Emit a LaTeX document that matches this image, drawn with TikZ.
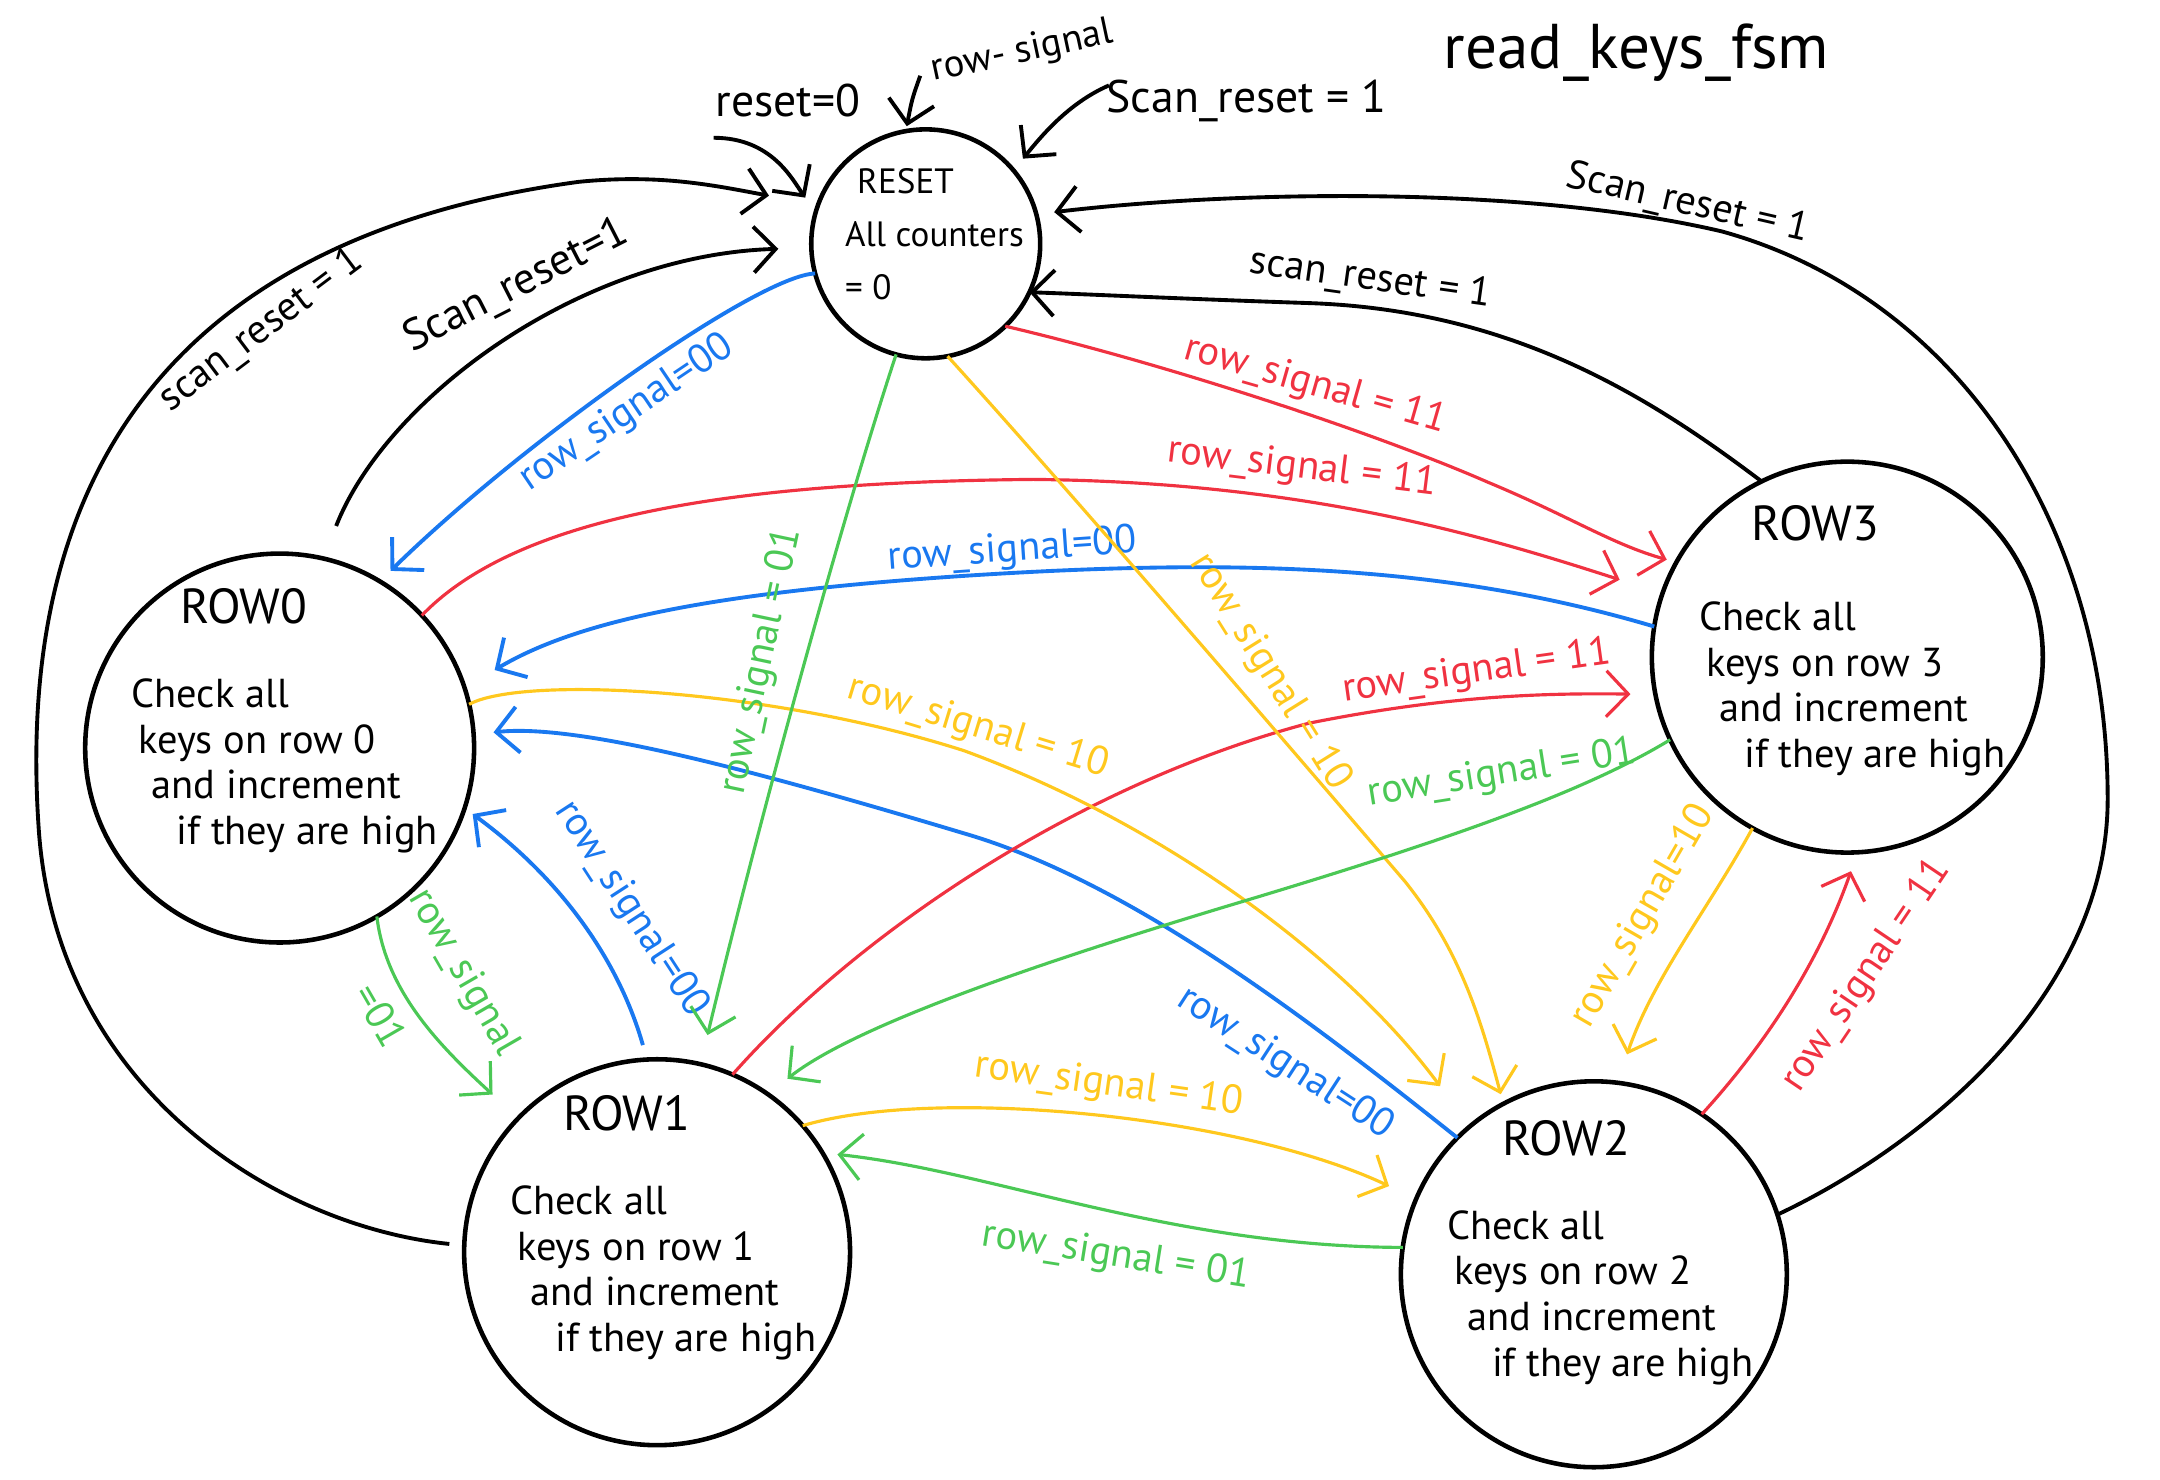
\documentclass[tikz,border=0pt]{standalone}
\usepackage{fontspec}
\setmainfont{PT Sans}
\usetikzlibrary{arrows.meta}
\definecolor{cred}{RGB}{240,50,65}
\definecolor{cblue}{RGB}{25,120,240}
\definecolor{cgreen}{RGB}{75,200,85}
\definecolor{cyellow}{RGB}{255,200,30}
\begin{document}
\begin{tikzpicture}[x=0.01378cm,y=-0.01378cm,
  arr/.style={-{Straight Barb[length=2.2mm,width=4.6mm]}},
  stcirc/.style={circle,draw,line width=1.3pt,inner sep=0pt,outer sep=0pt},
  sttitle/.style={font=\fontsize{14}{16}\selectfont},
  stbody/.style={font=\fontsize{11.5}{13}\selectfont,align=left,anchor=west,inner sep=0pt},
  lbl/.style={font=\fontsize{11.5}{13}\selectfont,inner sep=1pt},
  kedge/.style={draw=black,line width=1.1pt,arr},
  bedge/.style={draw=cblue,line width=1.1pt,arr},
  redge/.style={draw=cred,line width=0.9pt,arr},
  yedge/.style={draw=cyellow,line width=0.9pt,arr},
  gedge/.style={draw=cgreen,line width=0.9pt,arr}]
\useasboundingbox (0,0) rectangle (1568,1074);

% states
\node[stcirc,minimum size=2.29cm] (reset) at (672,177) {};
\node[stcirc,minimum size=3.89cm] (row0) at (203,543) {};
\node[stcirc,minimum size=3.91cm] (row3) at (1341,477) {};
\node[stcirc,minimum size=3.86cm] (row1) at (477,909) {};
\node[stcirc,minimum size=3.86cm] (row2) at (1157,925) {};

\node[font=\fontsize{10}{15}\selectfont,align=left,anchor=west,inner sep=0pt] (resett) at (613,170)
  {\hspace*{0.12cm}RESET\\All counters\\= 0};

\node[sttitle] (row0t) at (177,440) {ROW0};
\node[stbody] (row0b) at (95,556) {Check all\\\hspace*{0.07cm}keys on row 0\\\hspace*{0.2cm}and increment\\\hspace*{0.45cm}if they are high};
\node[sttitle] (row3t) at (1318,380) {ROW3};
\node[stbody] (row3b) at (1233,500) {Check all\\\hspace*{0.07cm}keys on row 3\\\hspace*{0.2cm}and increment\\\hspace*{0.45cm}if they are high};
\node[sttitle] (row1t) at (455,808) {ROW1};
\node[stbody] (row1b) at (370,924) {Check all\\\hspace*{0.07cm}keys on row 1\\\hspace*{0.2cm}and increment\\\hspace*{0.45cm}if they are high};
\node[sttitle] (row2t) at (1137,826) {ROW2};
\node[stbody] (row2b) at (1050,942) {Check all\\\hspace*{0.07cm}keys on row 2\\\hspace*{0.2cm}and increment\\\hspace*{0.45cm}if they are high};

% title and top labels
\node[font=\fontsize{18}{20}\selectfont] (title) at (1188,38) {read\_keys\_fsm};
\node[lbl,font=\fontsize{13}{15}\selectfont] (lr0) at (572,73) {reset=0};
\node[lbl,font=\fontsize{11}{13}\selectfont,rotate=12] (lrs) at (742,38) {row- signal};
\node[lbl,font=\fontsize{13}{15}\selectfont] (lsr) at (905,73) {Scan\_reset = 1};

% free arrows into RESET
\coordinate (r0s) at (518,100);
\coordinate (rss) at (668,55);
\coordinate (srs) at (805,62);
\draw[kedge,shorten >=1.8mm] (r0s) .. controls (560,100) and (575,130) .. (reset.164);
\draw[kedge,shorten >=0.5mm] (rss) .. controls (662,72) .. (reset.100);
\draw[kedge,shorten >=1.5mm] (srs) .. controls (775,75) and (755,100) .. (reset.40);

% black: scan_reset = 1
\draw[kedge,shorten <=1.5mm,shorten >=5mm] (row1.178) .. controls (200,890) and (40,790) .. (28,600)
  .. controls (10,330) and (140,170) .. (420,132) .. controls (480,126) and (520,135) .. (reset.160);
\node[lbl,rotate=37] (l4) at (190,240) {scan\_reset = 1};
\draw[kedge,shorten <=3.5mm,shorten >=3.3mm] (row0.77) .. controls (280,290) and (420,185) .. (reset.182);
\node[lbl,font=\fontsize{12.5}{14}\selectfont,rotate=27] (l5) at (375,208) {Scan\_reset=1};
\draw[kedge,shorten >=1.8mm] (row2.18) .. controls (1400,830) and (1530,720) .. (1530,580)
  .. controls (1530,380) and (1420,215) .. (1250,168) .. controls (1110,135) and (900,138) .. (reset.15);
\node[lbl,rotate=-13] (l6) at (1225,148) {Scan\_reset = 1};
\draw[kedge] (row3.116) .. controls (1200,290) and (1100,225) .. (950,220) .. controls (860,217) and (800,214) .. (reset.-25);
\node[lbl,rotate=-8] (l7) at (995,203) {scan\_reset = 1};

% blue: row_signal = 00
\draw[bedge,shorten >=1.5mm] (reset.195) .. controls (550,200) and (380,320) .. (row0.59);
\node[lbl,text=cblue,rotate=34] (l8) at (455,300) {row\_signal=00};
\draw[bedge,shorten >=3.5mm] (row3.171) .. controls (1050,410) and (900,405) .. (700,418)
  .. controls (520,430) and (420,450) .. (row0.18);
\node[lbl,text=cblue,rotate=4] (l9) at (735,400) {row\_signal=00};
\draw[bedge,shorten >=2mm] (row2.135) .. controls (950,740) and (820,640) .. (700,605)
  .. controls (550,560) and (420,525) .. (row0.4);
\node[lbl,text=cblue,rotate=-33] (l10) at (933,772) {row\_signal=00};
\draw[bedge,shorten <=1.5mm,shorten >=1mm] (row1.93) .. controls (450,700) and (410,640) .. (row0.-18);
\node[lbl,text=cblue,rotate=-57] (l11) at (458,660) {row\_signal=00};

% red: row_signal = 11
\draw[redge,shorten >=1mm] (reset.-46) .. controls (850,265) and (1000,315) .. (1080,350)
  .. controls (1140,375) and (1170,395) .. (row3.151);
\node[lbl,text=cred,rotate=-16] (l12) at (955,280) {row\_signal = 11};
\draw[redge,shorten >=4.5mm] (row0.43) .. controls (380,370) and (550,350) .. (750,348)
  .. controls (950,350) and (1080,390) .. (row3.161);
\node[lbl,text=cred,rotate=-7] (l13) at (945,340) {row\_signal = 11};
\draw[redge,shorten >=2.5mm] (row1.67) .. controls (620,680) and (780,570) .. (950,525)
  .. controls (1050,505) and (1120,503) .. (row3.191);
\node[lbl,text=cred,rotate=8] (l14) at (1072,488) {row\_signal = 11};
\draw[redge,shorten >=2mm] (row2.56) .. controls (1280,760) and (1320,700) .. (row3.-87);
\node[lbl,text=cred,rotate=56] (l15) at (1355,708) {row\_signal = 11};

% yellow: row_signal = 10
\draw[yedge,shorten >=1mm] (reset.-79) .. controls (780,360) and (960,570) .. (1020,640)
  .. controls (1060,690) and (1075,740) .. (row2.118);
\node[lbl,text=cyellow,rotate=-58] (l16) at (922,488) {row\_signal = 10};
\draw[yedge,shorten >=5mm] (row0.13) .. controls (380,490) and (560,500) .. (700,545)
  .. controls (850,600) and (980,700) .. (row2.130);
\node[lbl,text=cyellow,rotate=-17] (l17) at (710,528) {row\_signal = 10};
\draw[yedge,shorten >=3mm] (row1.41) .. controls (680,788) and (900,810) .. (row2.157);
\node[lbl,text=cyellow,rotate=-8] (l18) at (805,788) {row\_signal = 10};
\draw[yedge,shorten >=3mm] (row3.241) .. controls (1240,660) and (1200,710) .. (row2.83);
\node[lbl,text=cyellow,rotate=60] (l19) at (1193,665) {row\_signal=10};

% green: row_signal = 01
\draw[gedge,shorten >=3mm] (reset.-105) .. controls (610,380) and (550,600) .. (row1.77);
\node[lbl,text=cgreen,rotate=78] (l20) at (553,480) {row\_signal = 01};
\draw[gedge,shorten >=3.5mm] (row0.-60) .. controls (280,720) and (320,760) .. (row1.136);
\node[lbl,text=cgreen,rotate=-60] (l21a) at (336,706) {row\_signal};
\node[lbl,text=cgreen,rotate=-60] (l21b) at (276,737) {=01};
\draw[gedge,shorten >=2.5mm] (row3.205) .. controls (1150,575) and (1050,610) .. (900,655)
  .. controls (750,700) and (620,745) .. (row1.55);
\node[lbl,text=cgreen,rotate=9] (l22) at (1090,562) {row\_signal = 01};
\draw[gedge,shorten >=1.5mm] (row2.172) .. controls (850,905) and (720,850) .. (row1.31);
\node[lbl,text=cgreen,rotate=-9] (l23) at (810,912) {row\_signal = 01};
\end{tikzpicture}
\end{document}
